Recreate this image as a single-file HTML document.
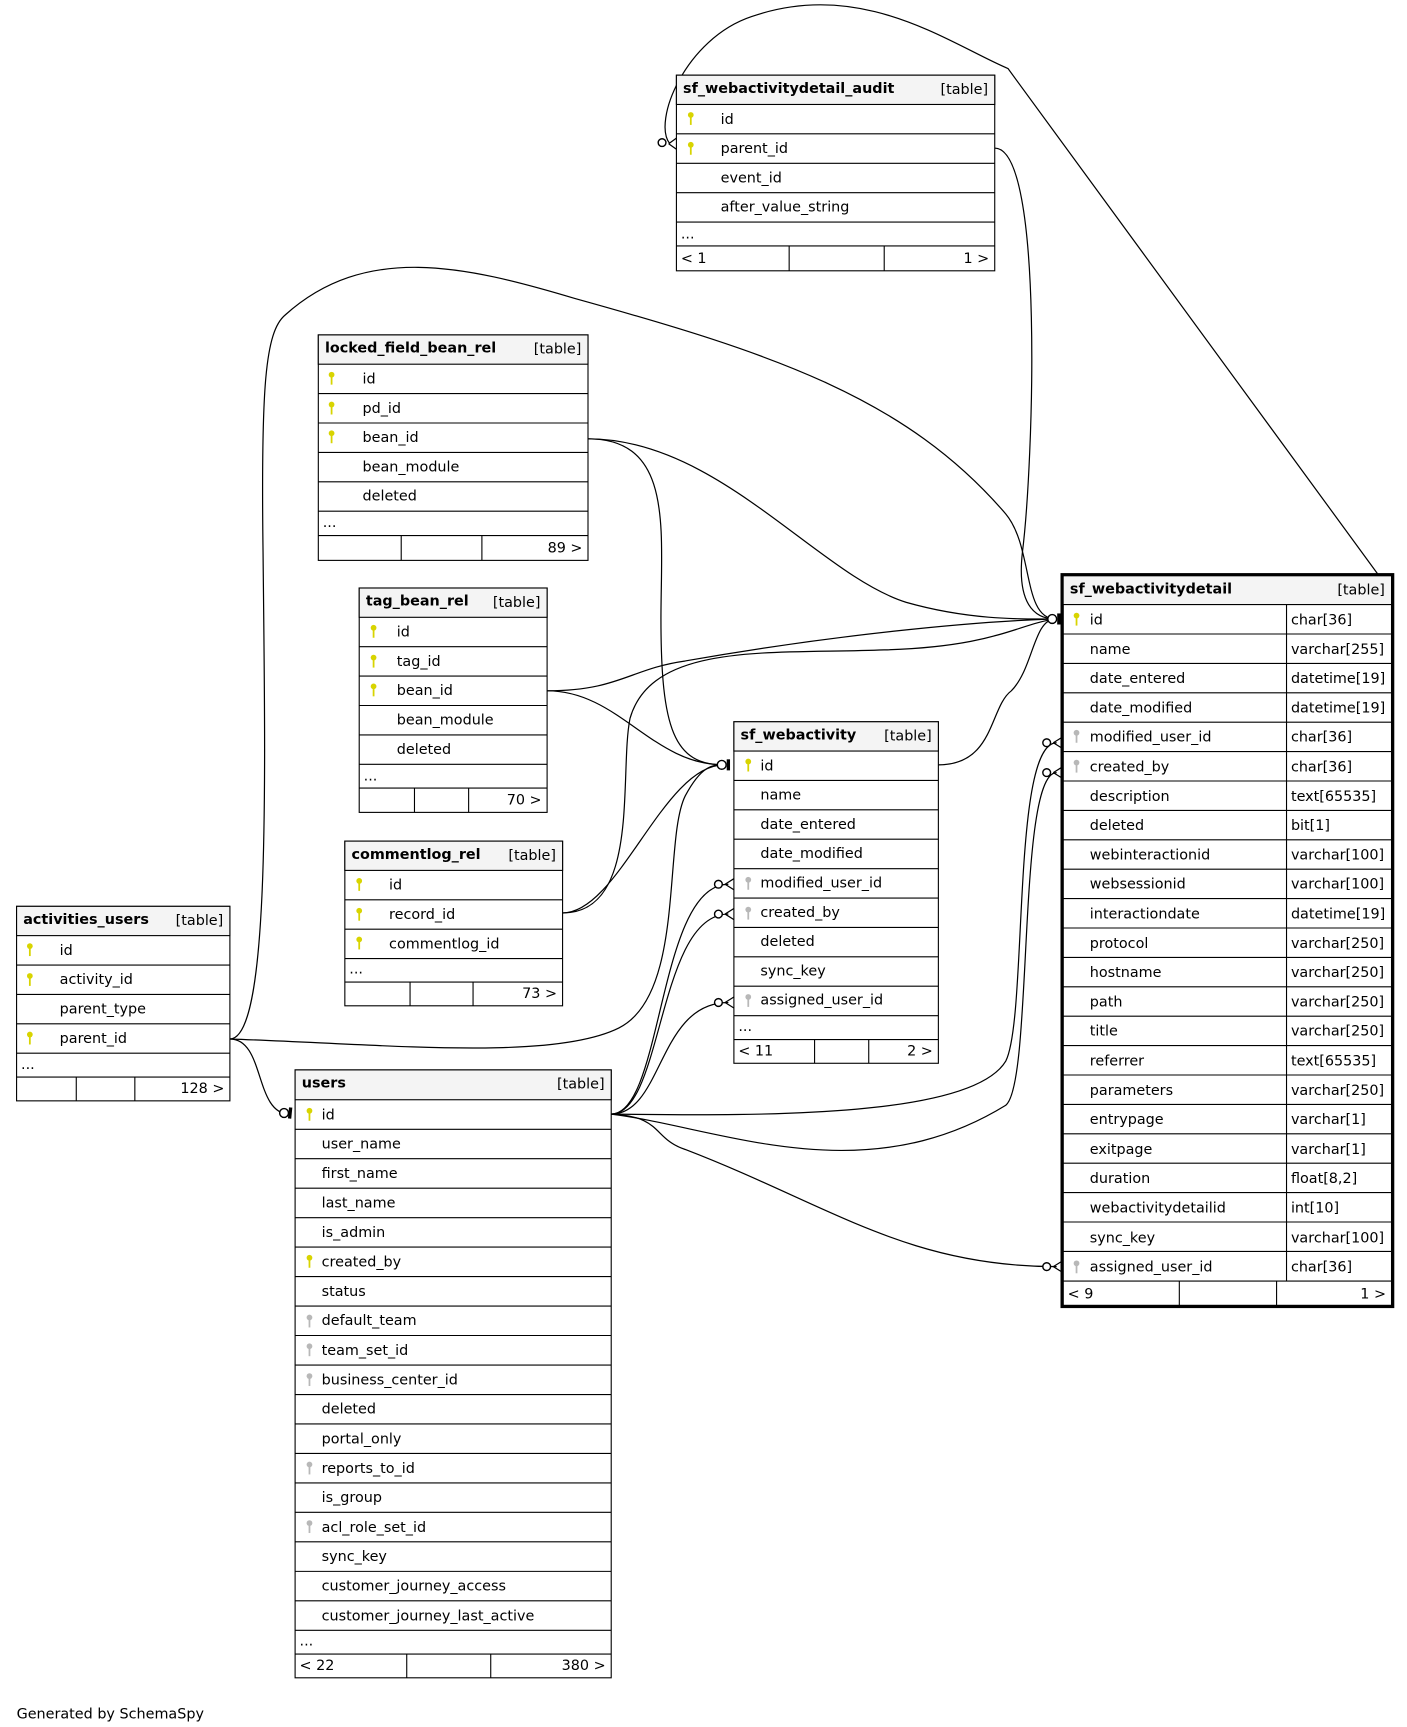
<!DOCTYPE html>
<html><head><meta charset="utf-8"><style>
html,body{margin:0;padding:0;background:#fff;}
svg{display:block;}
text{font-family:"DejaVu Sans","Liberation Sans",sans-serif;font-size:13px;fill:#000;}
.b{font-weight:bold;}
.t{fill:#fff;stroke:#000;stroke-width:1;}
.h{fill:#f4f4f4;stroke:#000;stroke-width:1;}
.l{stroke:#000;stroke-width:1;}
.c{fill:none;stroke:#000;stroke-width:1.1;}
.m{fill:#fff;stroke:#000;stroke-width:1.3;}
.mb{fill:none;stroke:#000;stroke-width:3;}
</style></head><body>
<svg width="1407" height="1727" viewBox="0 0 1273 1562.5" xmlns="http://www.w3.org/2000/svg">
<defs>
<g id="ky"><circle cx="0" cy="-3" r="2.6" fill="#d8d400"/><rect x="-0.8" y="-3" width="1.6" height="9" fill="#d8d400"/></g>
<g id="kg"><circle cx="0" cy="-3" r="2.6" fill="#b8b8b8"/><rect x="-0.8" y="-3" width="1.6" height="9" fill="#b8b8b8"/></g>
</defs>

<!-- connectors -->
<path class="c" d="M900,134 C945,134 935,420 925,500 C920,545 935,560 955,560"/>
<path class="c" d="M1258,535 L912,62 C860,40 780,-20 680,15 C620,35 590,110 606,130"/>
<path class="c" d="M532,397 C650,397 740,520 820,545 C880,562 930,560 955,560"/>
<path class="c" d="M532,397 C610,397 598,480 598,560 C598,660 610,692 655,692"/>
<path class="c" d="M208,940 C245,940 240,700 238,500 C236,350 240,300 258,285 C330,220 420,240 520,270 C700,320 820,360 910,465 C935,495 925,560 955,560"/>
<path class="c" d="M208,940 C350,945 500,960 560,930 C620,900 600,760 620,720 C635,692 645,692 655,692"/>
<path class="c" d="M208,940 C240,940 230,1008 262,1008"/>
<path class="c" d="M495,625 C560,625 570,605 620,598 C750,575 880,562 955,560"/>
<path class="c" d="M495,625 C560,625 590,692 655,692"/>
<path class="c" d="M509,826 C580,826 560,700 570,650 C590,580 700,592 800,588 C900,585 920,565 955,560"/>
<path class="c" d="M509,826 C560,826 600,692 655,692"/>
<path class="c" d="M849,692 C900,692 895,640 915,625 C935,605 935,560 955,560"/>
<path class="c" d="M553,1008 C600,1008 595,800 659,800"/>
<path class="c" d="M553,1008 C600,1008 595,827 659,827"/>
<path class="c" d="M553,1008 C600,1008 595,907 659,907"/>
<path class="c" d="M553,1008 C700,1010 880,1010 910,960 C930,920 915,672 956,672"/>
<path class="c" d="M553,1008 C650,1020 780,1080 910,1000 C935,980 920,699 956,699"/>
<path class="c" d="M553,1008 C600,1010 590,1030 620,1040 C750,1090 820,1146 956,1146"/>

<!-- markers -->
<circle class="m" cx="952" cy="560" r="4"/><line class="mb" x1="958" y1="555" x2="958" y2="565"/>
<circle class="m" cx="653" cy="692" r="4"/><line class="mb" x1="659" y1="687" x2="659" y2="697"/>
<circle class="m" cx="257" cy="1007" r="4"/><line class="mb" x1="263" y1="1002" x2="262" y2="1012"/>
<g class="c"><path d="M605,130 L612,125 M605,130 L612,135"/></g><circle class="m" cx="599" cy="129" r="3.5"/>
<g class="c"><path d="M656,800 L664,795 M656,800 L664,805 M656,827 L664,822 M656,827 L664,832 M656,907 L664,902 M656,907 L664,912"/></g>
<circle class="m" cx="650" cy="800" r="3.5"/><circle class="m" cx="650" cy="827" r="3.5"/><circle class="m" cx="650" cy="907" r="3.5"/>
<g class="c"><path d="M953,672 L961,667 M953,672 L961,677 M953,699 L961,694 M953,699 L961,704 M953,1146 L961,1141 M953,1146 L961,1151"/></g>
<circle class="m" cx="947" cy="672" r="3.5"/><circle class="m" cx="947" cy="699" r="3.5"/><circle class="m" cx="947" cy="1146" r="3.5"/>

<!-- sf_webactivitydetail_audit -->
<rect class="t" x="612" y="68" width="288" height="177"/>
<rect class="h" x="612" y="68" width="288" height="26.5"/>
<text class="b" x="618" y="84">sf_webactivitydetail_audit</text><text x="894" y="85" text-anchor="end">[table]</text>
<g class="l"><line x1="612" y1="121.1" x2="900" y2="121.1"/><line x1="612" y1="147.7" x2="900" y2="147.7"/><line x1="612" y1="174.3" x2="900" y2="174.3"/><line x1="612" y1="200.9" x2="900" y2="200.9"/><line x1="612" y1="222.5" x2="900" y2="222.5"/><line x1="714" y1="222.5" x2="714" y2="245"/><line x1="800" y1="222.5" x2="800" y2="245"/></g>
<use href="#ky" x="625" y="107"/><use href="#ky" x="625" y="134"/>
<text x="652" y="112">id</text><text x="652" y="138.5">parent_id</text><text x="652" y="165">event_id</text><text x="652" y="191.5">after_value_string</text>
<text x="616" y="216">...</text><text x="616" y="238">&lt; 1</text><text x="895" y="238" text-anchor="end">1 &gt;</text>

<!-- locked_field_bean_rel -->
<rect class="t" x="288" y="303" width="244" height="204"/>
<rect class="h" x="288" y="303" width="244" height="26.5"/>
<text class="b" x="294" y="319">locked_field_bean_rel</text><text x="526" y="320" text-anchor="end">[table]</text>
<g class="l"><line x1="288" y1="356.1" x2="532" y2="356.1"/><line x1="288" y1="382.7" x2="532" y2="382.7"/><line x1="288" y1="409.3" x2="532" y2="409.3"/><line x1="288" y1="435.9" x2="532" y2="435.9"/><line x1="288" y1="462.5" x2="532" y2="462.5"/><line x1="288" y1="484.5" x2="532" y2="484.5"/><line x1="363" y1="484.5" x2="363" y2="507"/><line x1="436" y1="484.5" x2="436" y2="507"/></g>
<use href="#ky" x="300" y="342"/><use href="#ky" x="300" y="369"/><use href="#ky" x="300" y="395"/>
<text x="328" y="347">id</text><text x="328" y="373.5">pd_id</text><text x="328" y="400">bean_id</text><text x="328" y="426.5">bean_module</text><text x="328" y="453">deleted</text>
<text x="292" y="477">...</text><text x="527" y="500" text-anchor="end">89 &gt;</text>

<!-- tag_bean_rel -->
<rect class="t" x="325" y="532" width="170" height="203"/>
<rect class="h" x="325" y="532" width="170" height="26.5"/>
<text class="b" x="331" y="548">tag_bean_rel</text><text x="489" y="549" text-anchor="end">[table]</text>
<g class="l"><line x1="325" y1="585.1" x2="495" y2="585.1"/><line x1="325" y1="611.7" x2="495" y2="611.7"/><line x1="325" y1="638.3" x2="495" y2="638.3"/><line x1="325" y1="664.9" x2="495" y2="664.9"/><line x1="325" y1="691.5" x2="495" y2="691.5"/><line x1="325" y1="713" x2="495" y2="713"/><line x1="375" y1="713" x2="375" y2="735"/><line x1="424" y1="713" x2="424" y2="735"/></g>
<use href="#ky" x="338" y="571"/><use href="#ky" x="338" y="598"/><use href="#ky" x="338" y="624"/>
<text x="359" y="576">id</text><text x="359" y="602.5">tag_id</text><text x="359" y="629">bean_id</text><text x="359" y="655.5">bean_module</text><text x="359" y="682">deleted</text>
<text x="329" y="706">...</text><text x="490" y="728" text-anchor="end">70 &gt;</text>

<!-- commentlog_rel -->
<rect class="t" x="312" y="761" width="197" height="149"/>
<rect class="h" x="312" y="761" width="197" height="26.5"/>
<text class="b" x="318" y="777">commentlog_rel</text><text x="503" y="778" text-anchor="end">[table]</text>
<g class="l"><line x1="312" y1="814.1" x2="509" y2="814.1"/><line x1="312" y1="840.7" x2="509" y2="840.7"/><line x1="312" y1="867.3" x2="509" y2="867.3"/><line x1="312" y1="888.5" x2="509" y2="888.5"/><line x1="371" y1="888.5" x2="371" y2="910"/><line x1="428" y1="888.5" x2="428" y2="910"/></g>
<use href="#ky" x="325" y="800"/><use href="#ky" x="325" y="827"/><use href="#ky" x="325" y="853"/>
<text x="352" y="805">id</text><text x="352" y="831.5">record_id</text><text x="352" y="858">commentlog_id</text>
<text x="316" y="881">...</text><text x="504" y="903" text-anchor="end">73 &gt;</text>

<!-- activities_users -->
<rect class="t" x="15" y="820" width="193" height="176"/>
<rect class="h" x="15" y="820" width="193" height="26.5"/>
<text class="b" x="21" y="836">activities_users</text><text x="202" y="837" text-anchor="end">[table]</text>
<g class="l"><line x1="15" y1="873.1" x2="208" y2="873.1"/><line x1="15" y1="899.7" x2="208" y2="899.7"/><line x1="15" y1="926.3" x2="208" y2="926.3"/><line x1="15" y1="952.9" x2="208" y2="952.9"/><line x1="15" y1="974.5" x2="208" y2="974.5"/><line x1="69" y1="974.5" x2="69" y2="996"/><line x1="122" y1="974.5" x2="122" y2="996"/></g>
<use href="#ky" x="27" y="859"/><use href="#ky" x="27" y="886"/><use href="#ky" x="27" y="939"/>
<text x="54" y="864">id</text><text x="54" y="890.5">activity_id</text><text x="54" y="917">parent_type</text><text x="54" y="943.5">parent_id</text>
<text x="19" y="967">...</text><text x="203" y="989" text-anchor="end">128 &gt;</text>

<!-- users -->
<rect class="t" x="267" y="968" width="286" height="550"/>
<rect class="h" x="267" y="968" width="286" height="27"/>
<text class="b" x="273" y="984">users</text><text x="547" y="985" text-anchor="end">[table]</text>
<g class="l">
<line x1="267" y1="1021.7" x2="553" y2="1021.7"/><line x1="267" y1="1048.3" x2="553" y2="1048.3"/><line x1="267" y1="1075" x2="553" y2="1075"/><line x1="267" y1="1101.7" x2="553" y2="1101.7"/><line x1="267" y1="1128.3" x2="553" y2="1128.3"/><line x1="267" y1="1155" x2="553" y2="1155"/><line x1="267" y1="1181.7" x2="553" y2="1181.7"/><line x1="267" y1="1208.3" x2="553" y2="1208.3"/><line x1="267" y1="1235" x2="553" y2="1235"/><line x1="267" y1="1261.7" x2="553" y2="1261.7"/><line x1="267" y1="1288.3" x2="553" y2="1288.3"/><line x1="267" y1="1315" x2="553" y2="1315"/><line x1="267" y1="1341.7" x2="553" y2="1341.7"/><line x1="267" y1="1368.3" x2="553" y2="1368.3"/><line x1="267" y1="1395" x2="553" y2="1395"/><line x1="267" y1="1421.7" x2="553" y2="1421.7"/><line x1="267" y1="1448.3" x2="553" y2="1448.3"/><line x1="267" y1="1475" x2="553" y2="1475"/><line x1="267" y1="1496.5" x2="553" y2="1496.5"/><line x1="368" y1="1496.5" x2="368" y2="1518"/><line x1="444" y1="1496.5" x2="444" y2="1518"/></g>
<use href="#ky" x="280" y="1008"/><use href="#ky" x="280" y="1141"/><use href="#kg" x="280" y="1195"/><use href="#kg" x="280" y="1221"/><use href="#kg" x="280" y="1248"/><use href="#kg" x="280" y="1328"/><use href="#kg" x="280" y="1381"/>
<text x="291" y="1013">id</text><text x="291" y="1039">user_name</text><text x="291" y="1066">first_name</text><text x="291" y="1092.5">last_name</text><text x="291" y="1119">is_admin</text><text x="291" y="1146">created_by</text><text x="291" y="1172.5">status</text><text x="291" y="1199">default_team</text><text x="291" y="1226">team_set_id</text><text x="291" y="1252.5">business_center_id</text><text x="291" y="1279">deleted</text><text x="291" y="1306">portal_only</text><text x="291" y="1332.5">reports_to_id</text><text x="291" y="1359">is_group</text><text x="291" y="1386">acl_role_set_id</text><text x="291" y="1412.5">sync_key</text><text x="291" y="1439">customer_journey_access</text><text x="291" y="1466">customer_journey_last_active</text>
<text x="271" y="1489">...</text><text x="271" y="1511">&lt; 22</text><text x="548" y="1511" text-anchor="end">380 &gt;</text>

<!-- sf_webactivity -->
<rect class="t" x="664" y="653" width="185" height="309"/>
<rect class="h" x="664" y="653" width="185" height="26.5"/>
<text class="b" x="670" y="669">sf_webactivity</text><text x="843" y="670" text-anchor="end">[table]</text>
<g class="l"><line x1="664" y1="706.1" x2="849" y2="706.1"/><line x1="664" y1="732.7" x2="849" y2="732.7"/><line x1="664" y1="759.3" x2="849" y2="759.3"/><line x1="664" y1="785.9" x2="849" y2="785.9"/><line x1="664" y1="812.5" x2="849" y2="812.5"/><line x1="664" y1="839.1" x2="849" y2="839.1"/><line x1="664" y1="865.7" x2="849" y2="865.7"/><line x1="664" y1="892.3" x2="849" y2="892.3"/><line x1="664" y1="918.9" x2="849" y2="918.9"/><line x1="664" y1="940.5" x2="849" y2="940.5"/><line x1="737" y1="940.5" x2="737" y2="962"/><line x1="786" y1="940.5" x2="786" y2="962"/></g>
<use href="#ky" x="677" y="692"/><use href="#kg" x="677" y="799"/><use href="#kg" x="677" y="826"/><use href="#kg" x="677" y="905"/>
<text x="688" y="697">id</text><text x="688" y="723.5">name</text><text x="688" y="750">date_entered</text><text x="688" y="776.5">date_modified</text><text x="688" y="803">modified_user_id</text><text x="688" y="829.5">created_by</text><text x="688" y="856">deleted</text><text x="688" y="882.5">sync_key</text><text x="688" y="909">assigned_user_id</text>
<text x="668" y="933">...</text><text x="668" y="955">&lt; 11</text><text x="844" y="955" text-anchor="end">2 &gt;</text>

<!-- sf_webactivitydetail -->
<rect class="t" x="961" y="520" width="299" height="662" style="stroke-width:3"/>
<rect class="h" x="962.5" y="521.5" width="296" height="25.5" style="stroke:none"/>
<text class="b" x="968" y="537">sf_webactivitydetail</text><text x="1253" y="538" text-anchor="end">[table]</text>
<g class="l">
<line x1="961" y1="547" x2="1260" y2="547"/><line x1="961" y1="573.6" x2="1260" y2="573.6"/><line x1="961" y1="600.2" x2="1260" y2="600.2"/><line x1="961" y1="626.8" x2="1260" y2="626.8"/><line x1="961" y1="653.4" x2="1260" y2="653.4"/><line x1="961" y1="680" x2="1260" y2="680"/><line x1="961" y1="706.6" x2="1260" y2="706.6"/><line x1="961" y1="733.2" x2="1260" y2="733.2"/><line x1="961" y1="759.8" x2="1260" y2="759.8"/><line x1="961" y1="786.4" x2="1260" y2="786.4"/><line x1="961" y1="813" x2="1260" y2="813"/><line x1="961" y1="839.6" x2="1260" y2="839.6"/><line x1="961" y1="866.2" x2="1260" y2="866.2"/><line x1="961" y1="892.8" x2="1260" y2="892.8"/><line x1="961" y1="919.4" x2="1260" y2="919.4"/><line x1="961" y1="946" x2="1260" y2="946"/><line x1="961" y1="972.6" x2="1260" y2="972.6"/><line x1="961" y1="999.2" x2="1260" y2="999.2"/><line x1="961" y1="1025.8" x2="1260" y2="1025.8"/><line x1="961" y1="1052.4" x2="1260" y2="1052.4"/><line x1="961" y1="1079" x2="1260" y2="1079"/><line x1="961" y1="1105.6" x2="1260" y2="1105.6"/><line x1="961" y1="1132.2" x2="1260" y2="1132.2"/><line x1="961" y1="1159" x2="1260" y2="1159"/>
<line x1="1164" y1="547" x2="1164" y2="1159"/><line x1="1067" y1="1159" x2="1067" y2="1182"/><line x1="1155" y1="1159" x2="1155" y2="1182"/></g>
<use href="#ky" x="974" y="560"/><use href="#kg" x="974" y="666"/><use href="#kg" x="974" y="693"/><use href="#kg" x="974" y="1146"/>
<g>
<text x="986" y="565">id</text><text x="1168" y="565">char[36]</text>
<text x="986" y="591.5">name</text><text x="1168" y="591.5">varchar[255]</text>
<text x="986" y="618">date_entered</text><text x="1168" y="618">datetime[19]</text>
<text x="986" y="644.5">date_modified</text><text x="1168" y="644.5">datetime[19]</text>
<text x="986" y="671">modified_user_id</text><text x="1168" y="671">char[36]</text>
<text x="986" y="698">created_by</text><text x="1168" y="698">char[36]</text>
<text x="986" y="724.5">description</text><text x="1168" y="724.5">text[65535]</text>
<text x="986" y="751">deleted</text><text x="1168" y="751">bit[1]</text>
<text x="986" y="777.5">webinteractionid</text><text x="1168" y="777.5">varchar[100]</text>
<text x="986" y="804">websessionid</text><text x="1168" y="804">varchar[100]</text>
<text x="986" y="831">interactiondate</text><text x="1168" y="831">datetime[19]</text>
<text x="986" y="857.5">protocol</text><text x="1168" y="857.5">varchar[250]</text>
<text x="986" y="884">hostname</text><text x="1168" y="884">varchar[250]</text>
<text x="986" y="910.5">path</text><text x="1168" y="910.5">varchar[250]</text>
<text x="986" y="937">title</text><text x="1168" y="937">varchar[250]</text>
<text x="986" y="964">referrer</text><text x="1168" y="964">text[65535]</text>
<text x="986" y="990.5">parameters</text><text x="1168" y="990.5">varchar[250]</text>
<text x="986" y="1017">entrypage</text><text x="1168" y="1017">varchar[1]</text>
<text x="986" y="1044">exitpage</text><text x="1168" y="1044">varchar[1]</text>
<text x="986" y="1070.5">duration</text><text x="1168" y="1070.5">float[8,2]</text>
<text x="986" y="1097">webactivitydetailid</text><text x="1168" y="1097">int[10]</text>
<text x="986" y="1124">sync_key</text><text x="1168" y="1124">varchar[100]</text>
<text x="986" y="1150.5">assigned_user_id</text><text x="1168" y="1150.5">char[36]</text>
</g>
<text x="966" y="1175">&lt; 9</text><text x="1254" y="1175" text-anchor="end">1 &gt;</text>

<text x="15" y="1555">Generated by SchemaSpy</text>
</svg>
</body></html>
